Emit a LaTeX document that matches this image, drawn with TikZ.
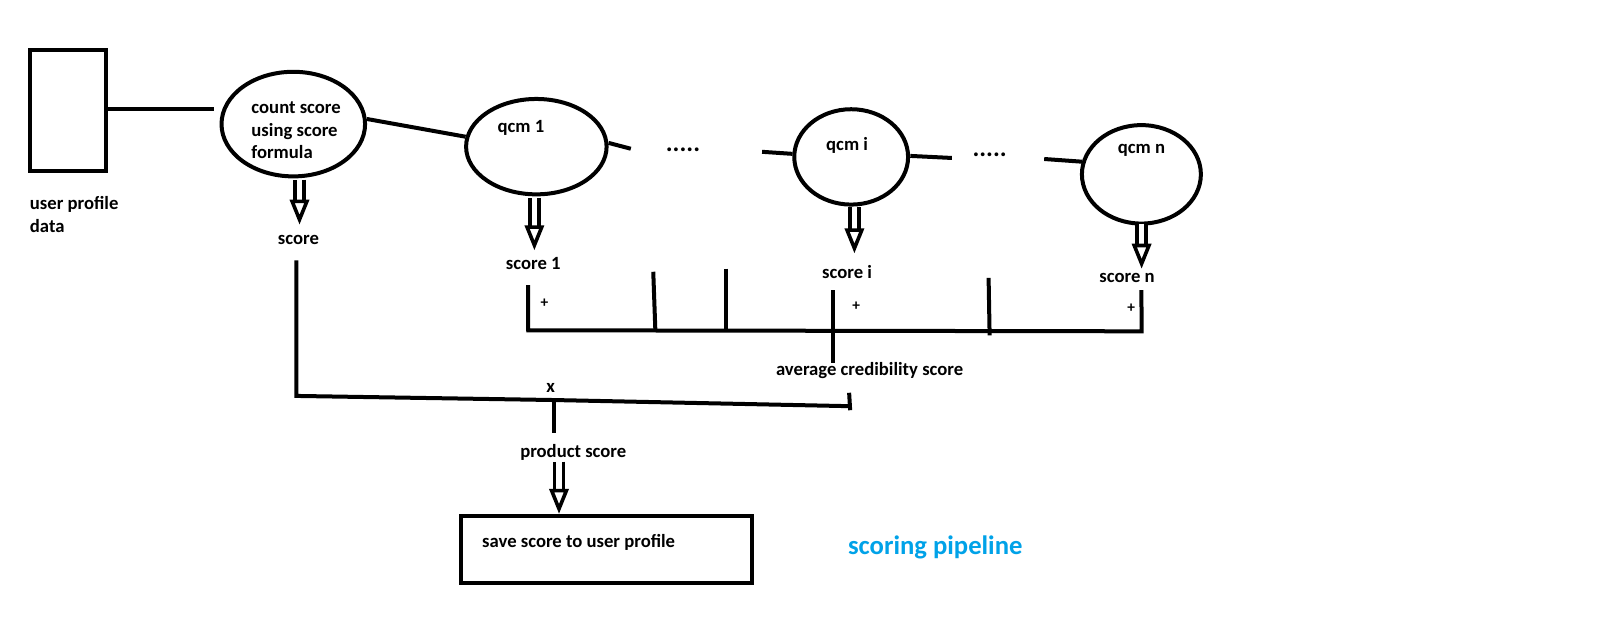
\documentclass[tikz,border=0pt]{standalone}
\usepackage{fontspec}
\setmainfont{Carlito}
\usetikzlibrary{shapes.geometric,arrows.meta}
\definecolor{pipeblue}{RGB}{0,162,232}
\begin{document}
\begin{tikzpicture}[x=1pt,y=-1pt,scale=1.0255,every node/.append style={transform shape},
  thick line/.style={line width=4pt},
  oval/.style={draw,ellipse,line width=4pt,inner sep=0pt},
  lbl/.style={font=\bfseries\fontsize{18.2}{22}\selectfont,inner sep=0pt,align=left},
  plus/.style={font=\bfseries\fontsize{15}{16}\selectfont,inner sep=0pt},
  dotsty/.style={font=\bfseries\fontsize{25}{28}\selectfont,inner sep=0pt},
  hollow/.style={double,line width=3.6pt,double distance=5.5pt,
    -{Triangle[open,length=25pt,width=19pt,line width=3.6pt]}}]
\useasboundingbox (0,0) rectangle (1568,620.2);
% user profile
\node[draw,line width=4pt,minimum width=74pt,minimum height=118pt,inner sep=0pt] (rect) at (66,108) {};
\node[lbl,anchor=west] (upd) at (29,209) {user profile\\data};
% ellipses
\node[oval,minimum width=140pt,minimum height=102pt] (e1) at (286,121) {};
\node[lbl,anchor=west] (e1t) at (245,127) {count score\\using score\\formula};
\node[oval,minimum width=137pt,minimum height=93pt] (q1) at (523,143) {};
\node[lbl] (q1t) at (508,125) {qcm 1};
\node[oval,minimum width=111pt,minimum height=93pt] (qi) at (830,153) {};
\node[lbl] (qit) at (826,142) {qcm i};
\node[oval,minimum width=116pt,minimum height=96pt] (qn) at (1113,170) {};
\node[lbl] (qnt) at (1113,147) {qcm n};
% dots
\node[dotsty] (dots1) at (666,146) {.....};
\node[dotsty] (dots2) at (965,151) {.....};
% connectors top
\coordinate (c1) at (103,106);
\coordinate (c2) at (209,106);
\draw[thick line] (c1) -- (c2);
\draw[thick line] (e1.4) -- (q1.172);
\coordinate (d1) at (615,145);
\draw[thick line] (q1.3) -- (d1);
\coordinate (d2) at (743,148);
\draw[thick line] (d2) -- (qi.177);
\coordinate (d3) at (928,154);
\draw[thick line] (qi.1) -- (d3);
\coordinate (d4) at (1018,155);
\draw[thick line] (d4) -- (qn.168);
% labels
\node[lbl] (s0) at (291,234) {score};
\node[lbl] (s1) at (520,257) {score 1};
\node[lbl] (si) at (826,265) {score i};
\node[lbl] (sn) at (1099,271) {score n};
\node[lbl] (acs) at (848,361) {average credibility score};
\node[lbl] (xx) at (537,378) {x};
\node[lbl] (ps) at (559,441) {product score};
\node[plus] (p1) at (531,296) {+};
\node[plus] (p2) at (835,299) {+};
\node[plus] (p3) at (1103,301) {+};
% hollow arrows
\coordinate (a0) at (292,175); \coordinate (b0) at (292,219);
\draw[hollow] (a0) -- (b0);
\coordinate (a1) at (521,193); \coordinate (b1) at (521,244);
\draw[hollow] (a1) -- (b1);
\coordinate (a2) at (833,202); \coordinate (b2) at (833,247);
\draw[hollow] (a2) -- (b2);
\coordinate (a3) at (1113,218); \coordinate (b3) at (1113,262);
\draw[hollow] (a3) -- (b3);
% summation
\coordinate (sl) at (515,322);
\coordinate (sr) at (1113,323);
\draw[thick line] (515,278) -- (sl) -- (sr) -- (1113,283);
\draw[thick line] (637,265) -- (639,321);
\draw[thick line] (708,262) -- (708,321);
\draw[thick line] (964,271) -- (965,327);
\draw[thick line] (812,283) -- (812,354);
% product
\coordinate (pl) at (289,386);
\coordinate (pm) at (540,390);
\coordinate (pr) at (829,396);
\draw[thick line] (289,254) -- (pl) -- (pm) -- (pr);
\draw[thick line] (828,383) -- (829,400);
\draw[thick line] (540,391) -- (540,422);
% save box
\node[draw,line width=4pt,minimum width=283pt,minimum height=65pt,inner sep=0pt] (box) at (591.5,535.5) {};
\node[lbl,anchor=west] (boxt) at (470,529) {save score to user profile};
\coordinate (a4) at (545,450); \coordinate (b4) at (545,501);
\draw[hollow] (a4) -- (b4);
% title
\node[font=\bfseries\fontsize{26}{30}\selectfont,text=pipeblue,inner sep=0pt] (title) at (912,534) {scoring pipeline};
\end{tikzpicture}
\end{document}
